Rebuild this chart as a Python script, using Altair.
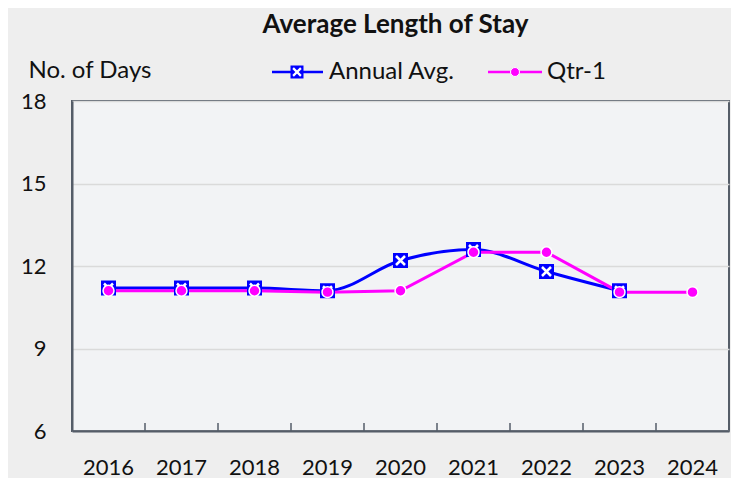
import altair as alt
import pandas as pd

years = ["2016", "2017", "2018", "2019", "2020", "2021", "2022", "2023", "2024"]
annual_avg = [11.2, 11.2, 11.2, 11.1, 12.2, 12.6, 11.8, 11.1, None]
qtr_1 = [11.1, 11.1, 11.1, 11.05, 11.1, 12.5, 12.5, 11.05, 11.05]
y_ticks = [6, 9, 12, 15, 18]

df = pd.DataFrame({"year": years, "annual": annual_avg, "qtr": qtr_1})

FONT = "Lato"
BLUE = "#0000ff"
MAG = "#ff00ff"
DARK = "#555d68"
TXT = "#111111"

W, H = 657, 330

xenc = alt.X(
    "year:O",
    bandPosition=0.5,
    sort=years,
    scale=alt.Scale(type="band", paddingInner=0, paddingOuter=0),
    axis=alt.Axis(
        title=None, labelAngle=0, ticks=False, labelFontSize=22, labelFont=FONT,
        labelColor=TXT, labelPadding=26, domainColor=DARK, domainWidth=2,
    ),
)

yaxis = alt.Axis(
    values=y_ticks, title="No. of Days", titleAngle=0, titleX=-44, titleY=-31,
    titleAlign="left", titleBaseline="middle", titleFont=FONT, titleFontSize=24,
    titleFontWeight="normal", titleColor=TXT,
    labelFont=FONT, labelFontSize=22, labelColor=TXT, labelPadding=26,
    ticks=False, grid=True, gridColor="#dadada", gridWidth=1.5,
    domainColor=DARK, domainWidth=2,
)
yscale = alt.Scale(domain=[6, 18], nice=False, zero=False)

base = alt.Chart(df)
xc = alt.X("year:O", bandPosition=0.5, sort=years)

ticks = base.mark_rule(color=DARK, strokeWidth=1.5).encode(
    x=alt.X("year:O", bandPosition=0, sort=years),
    y=alt.value(H),
    y2=alt.value(H - 8),
).transform_filter(alt.datum.year != "2016")

annual_line = base.mark_line(color=BLUE, strokeWidth=3, interpolate="monotone").encode(
    x=xenc, y=alt.Y("annual:Q", scale=yscale, axis=yaxis)
)
qtr_line = base.mark_line(color=MAG, strokeWidth=3).encode(x=xc, y=alt.Y("qtr:Q"))
annual_sq = base.mark_point(shape="square", size=225, filled=True, color=BLUE, opacity=1).encode(
    x=xc, y=alt.Y("annual:Q")
)
annual_x = base.mark_point(
    shape="M-0.6,-0.6L0.6,0.6M-0.6,0.6L0.6,-0.6", size=225, filled=False,
    stroke="white", strokeWidth=2.5, opacity=1,
).encode(x=xc, y=alt.Y("annual:Q"))
qtr_pt = base.mark_point(
    shape="circle", size=120, filled=True, fill=MAG, stroke="white", strokeWidth=1.5, opacity=1
).encode(x=xc, y=alt.Y("qtr:Q"))

# legend
LY = -29
leg_df = pd.DataFrame({"k": [0]})
lb = alt.Chart(leg_df)
leg = [
    lb.mark_rule(color=BLUE, strokeWidth=2.5).encode(x=alt.value(200), x2=alt.value(251), y=alt.value(LY)),
    lb.mark_point(shape="square", size=169, filled=True, color=BLUE, opacity=1).encode(x=alt.value(225), y=alt.value(LY)),
    lb.mark_point(shape="M-0.6,-0.6L0.6,0.6M-0.6,0.6L0.6,-0.6", size=169, filled=False, stroke="white",
                  strokeWidth=2.2, opacity=1).encode(x=alt.value(225), y=alt.value(LY)),
    lb.mark_text(text="Annual Avg.", align="left", baseline="middle", font=FONT, fontSize=24,
                 color=TXT).encode(x=alt.value(257), y=alt.value(LY)),
    lb.mark_rule(color=MAG, strokeWidth=2.5).encode(x=alt.value(416), x2=alt.value(470), y=alt.value(LY)),
    lb.mark_point(shape="circle", size=80, filled=True, fill=MAG, stroke="white", strokeWidth=1,
                  opacity=1).encode(x=alt.value(443), y=alt.value(LY)),
    lb.mark_text(text="Qtr-1", align="left", baseline="middle", font=FONT, fontSize=24,
                 color=TXT).encode(x=alt.value(475), y=alt.value(LY)),
]

chart = alt.layer(
    annual_line, qtr_line, annual_sq, annual_x, qtr_pt, ticks, *leg
).properties(
    width=W, height=H,
    title=alt.TitleParams("Average Length of Stay", font=FONT, fontSize=26, fontWeight="bold",
                          color=TXT, anchor="middle", dx=-5, offset=20),
    padding={"left": 64, "top": 93, "right": 2, "bottom": 47},
    autosize=alt.AutoSizeParams(type="none"),
    background="#eeeeee",
).configure_view(
    fill="#f2f3f5", stroke=DARK, strokeWidth=2
)

chart.save("out.html", embed_options={"renderer": "svg", "actions": False})
